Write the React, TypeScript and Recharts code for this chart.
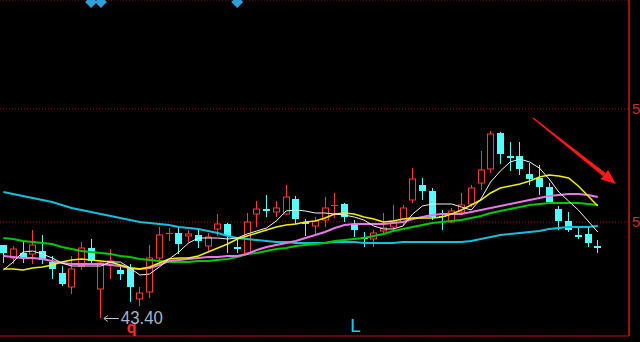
import React from 'react';
import {
  ComposedChart,
  Bar,
  Line,
  Scatter,
  XAxis,
  YAxis,
  CartesianGrid,
  ReferenceDot,
  ReferenceLine,
} from 'recharts';

// daily candles, oldest first
const opens = [
  48.51, 47.6, 47.95, 47.88, 48.09, 47.32, 46.55, 45.57, 47.04, 48.3,
  45.43, 47.25, 46.76, 46.9, 44.73, 45.22, 47.6, 49.28, 49.35, 49.14,
  49.21, 48.44, 49.63, 49.98, 48.37, 47.95, 50.68, 51.03, 50.82, 50.68,
  51.73, 50.12, 49.84, 50.26, 51.24, 51.38, 49.91, 49.07, 48.93, 49.49,
  49.77, 50.12, 51.66, 52.71, 52.29, 50.61, 50.12, 50.82, 51.38, 52.85,
  53.83, 56.35, 54.74, 54.74, 53.48, 53.2, 52.57, 51.03, 50.19, 49.21,
  49.28, 48.44,
];
const closes = [
  47.95, 48.23, 47.67, 48.51, 47.46, 46.83, 45.78, 46.83, 48.3, 47.39,
  47.25, 47.39, 46.48, 45.57, 45.15, 47.6, 49.21, 49.35, 48.58, 49.28,
  48.79, 49.07, 49.98, 49.14, 48.23, 50.12, 51.03, 50.89, 51.1, 51.87,
  50.33, 49.98, 50.19, 51.1, 51.31, 50.47, 49.56, 48.93, 49.35, 49.7,
  50.19, 51.1, 53.13, 52.29, 50.47, 50.54, 50.89, 51.31, 52.5, 53.76,
  56.28, 54.88, 54.6, 53.83, 53.13, 52.57, 51.52, 50.19, 49.56, 49.07,
  48.65, 48.3,
];
const highs = [
  48.51, 48.44, 48.72, 49.56, 49.21, 47.74, 47.04, 47.74, 48.72, 48.93,
  47.32, 48.23, 47.04, 47.18, 45.57, 48.51, 49.77, 49.7, 49.84, 49.56,
  49.56, 49.35, 50.68, 50.05, 49.0, 50.75, 51.59, 52.01, 51.59, 52.71,
  51.94, 50.33, 50.47, 51.87, 52.15, 51.45, 50.26, 49.42, 49.56, 50.75,
  51.31, 51.31, 53.9, 53.2, 52.5, 50.96, 51.1, 52.15, 52.71, 55.09,
  56.49, 56.42, 55.72, 55.72, 54.25, 54.11, 52.85, 51.24, 50.82, 49.77,
  49.77, 48.86,
];
const lows = [
  47.25, 47.18, 47.25, 47.18, 47.18, 46.13, 45.64, 45.08, 46.76, 47.25,
  43.4, 46.13, 46.06, 44.52, 44.24, 44.8, 47.25, 48.79, 47.88, 48.72,
  48.3, 48.02, 49.14, 47.95, 47.95, 47.88, 49.77, 50.47, 50.47, 50.61,
  49.98, 49.14, 49.28, 49.77, 50.4, 50.12, 49.07, 48.37, 48.37, 49.21,
  49.56, 49.91, 51.45, 51.66, 50.26, 49.56, 50.05, 50.75, 51.17, 52.36,
  53.55, 54.18, 53.69, 53.41, 52.71, 52.01, 51.52, 49.56, 49.42, 48.93,
  48.37, 47.95,
];

// moving averages
const ma5 = [
  46.76, 47.32, 48.02, 48.09, 47.88, 47.6, 47.25, 47.04, 47.04, 47.04,
  47.04, 47.32, 47.32, 46.9, 46.41, 46.48, 46.97, 47.53, 48.02, 48.65,
  49.0, 49.0, 49.0, 48.93, 49.0, 49.28, 49.49, 49.7, 50.19, 50.89,
  50.96, 50.89, 50.75, 50.75, 50.68, 50.61, 50.47, 50.26, 49.84, 49.63,
  49.63, 49.84, 50.68, 51.24, 51.38, 51.38, 51.38, 51.17, 50.96, 51.73,
  52.92, 53.69, 54.32, 54.53, 54.32, 53.9, 53.13, 52.22, 51.59, 50.96,
  50.19, 49.42,
];
const ma10 = [
  46.83, 46.83, 46.76, 46.9, 46.97, 47.11, 47.32, 47.46, 47.53, 47.46,
  47.39, 47.32, 47.11, 46.9, 46.83, 46.97, 47.25, 47.53, 47.6, 47.6,
  47.74, 48.02, 48.3, 48.58, 48.93, 49.14, 49.35, 49.56, 49.77, 49.91,
  49.98, 50.12, 50.19, 50.4, 50.68, 50.75, 50.68, 50.47, 50.33, 50.12,
  50.19, 50.33, 50.4, 50.4, 50.4, 50.47, 50.68, 50.96, 51.31, 51.66,
  52.15, 52.5, 52.64, 52.78, 52.99, 53.27, 53.41, 53.34, 53.2, 52.64,
  51.94, 51.24,
];
const ma20 = [
  47.74, 47.67, 47.6, 47.6, 47.53, 47.39, 47.25, 47.18, 47.18, 47.18,
  47.18, 47.11, 47.04, 46.9, 46.83, 46.9, 47.11, 47.39, 47.46, 47.53,
  47.6, 47.67, 47.67, 47.74, 47.74, 47.88, 48.16, 48.37, 48.51, 48.65,
  48.79, 49.0, 49.21, 49.42, 49.7, 49.91, 49.98, 49.98, 49.98, 49.98,
  50.05, 50.12, 50.33, 50.47, 50.61, 50.68, 50.68, 50.68, 50.82, 50.96,
  51.1, 51.24, 51.38, 51.52, 51.66, 51.8, 51.94, 52.01, 52.08, 52.08,
  52.01, 51.87,
];
const ma30 = [
  49.0, 48.93, 48.79, 48.72, 48.65, 48.58, 48.37, 48.23, 48.09, 48.02,
  47.95, 47.88, 47.74, 47.67, 47.53, 47.46, 47.39, 47.32, 47.32, 47.32,
  47.39, 47.39, 47.46, 47.53, 47.67, 47.88, 47.95, 48.09, 48.23, 48.3,
  48.44, 48.51, 48.58, 48.65, 48.79, 48.86, 48.93, 49.0, 49.14, 49.28,
  49.49, 49.63, 49.77, 49.91, 50.05, 50.12, 50.19, 50.26, 50.4, 50.54,
  50.75, 50.89, 51.03, 51.17, 51.31, 51.38, 51.45, 51.45, 51.45, 51.45,
  51.38, 51.31,
];
const ma60 = [
  52.22, 52.08, 51.94, 51.8, 51.66, 51.52, 51.31, 51.1, 50.96, 50.82,
  50.68, 50.54, 50.4, 50.26, 50.12, 50.05, 49.98, 49.91, 49.77, 49.7,
  49.63, 49.49, 49.35, 49.14, 49.0, 48.93, 48.86, 48.79, 48.72, 48.72,
  48.65, 48.65, 48.65, 48.65, 48.72, 48.72, 48.72, 48.65, 48.65, 48.65,
  48.65, 48.72, 48.72, 48.72, 48.72, 48.72, 48.72, 48.72, 48.79, 48.93,
  49.07, 49.21, 49.28, 49.35, 49.42, 49.49, 49.63, 49.7, 49.77, 49.77,
  49.77, 49.84,
];

const signalBars = [9, 10, 24]; // bars with a top marker
const priceTicks = [50.12, 58.03];
const lowBar = 10;
const lowText = '43.40';
const lBar = 36;

const Y_MIN = 42.14;
const Y_MAX = 65.66;
const UP = '#ff3838';
const DOWN = '#54ffff';
const FRAME = '#a01010';

const data = opens.map((o, i) => ({
  i,
  open: o,
  close: closes[i],
  high: highs[i],
  low: lows[i],
  range: [lows[i], highs[i]],
  ma5: ma5[i],
  ma10: ma10[i],
  ma20: ma20[i],
  ma30: ma30[i],
  ma60: ma60[i],
}));

const signals = signalBars.map(i => ({ i, top: Y_MAX }));

function Candle(props: any) {
  const { x, y, width, height, payload } = props;
  const { open, close, high, low } = payload;
  const top = Math.min(y, y + height);
  const h = Math.abs(height);
  const span = high - low;
  const toY = (v: number) => (span === 0 ? top : top + ((high - v) / span) * h);
  const up = close >= open;
  const color = up ? UP : DOWN;
  const cx = Math.round(x + width / 2) + 0.5;
  const bTop = toY(Math.max(open, close));
  const bBot = toY(Math.min(open, close));
  const yHigh = toY(high);
  const yLow = toY(low);

  if (bBot - bTop < 1.5) {
    const m = Math.round((bTop + bBot) / 2) + 0.5;
    return (
      <g>
        <line x1={cx} x2={cx} y1={yHigh} y2={yLow} stroke={color} strokeWidth={1} />
        <line x1={cx - 3.5} x2={cx + 3.5} y1={m} y2={m} stroke={color} strokeWidth={1} />
      </g>
    );
  }
  if (up) {
    return (
      <g>
        <line x1={cx} x2={cx} y1={yHigh} y2={bTop} stroke={color} strokeWidth={1} />
        <line x1={cx} x2={cx} y1={bBot} y2={yLow} stroke={color} strokeWidth={1} />
        <rect x={cx - 3} y={bTop} width={6} height={bBot - bTop} fill="#000" stroke={color} strokeWidth={1} />
      </g>
    );
  }
  return (
    <g>
      <line x1={cx} x2={cx} y1={yHigh} y2={yLow} stroke={color} strokeWidth={1} />
      <rect x={cx - 3.5} y={bTop} width={7} height={bBot - bTop} fill={color} />
    </g>
  );
}

function Diamond(props: any) {
  const { cx, cy } = props;
  const c = cy + 2;
  return (
    <polygon
      points={`${cx},${c - 6} ${cx + 6},${c} ${cx},${c + 6} ${cx - 6},${c}`}
      fill="#2f9fd8"
    />
  );
}

function LowMark(props: any) {
  const { cx, cy } = props;
  const ay = Math.round(cy) + 0.5;
  return (
    <g>
      <line x1={cx + 3} x2={cx + 18} y1={ay} y2={ay} stroke="#b8c0c8" strokeWidth={1} />
      <polyline
        points={`${cx + 7},${ay - 3} ${cx + 3},${ay} ${cx + 7},${ay + 3}`}
        fill="none"
        stroke="#b8c0c8"
        strokeWidth={1}
      />
      <text
        x={cx + 26}
        y={cy + 15}
        fontSize={16}
        fontWeight="bold"
        fontFamily="Liberation Sans, Arial, sans-serif"
        fill="#ff2a2a"
      >
        q
      </text>
      <text
        x={cx + 20}
        y={cy + 6}
        fontSize={19}
        fontFamily="Liberation Sans, Arial, sans-serif"
        fill="#a8b4c4"
        textLength={42}
        lengthAdjust="spacingAndGlyphs"
      >
        {lowText}
      </text>
    </g>
  );
}

function LMark(props: any) {
  const { cx, cy } = props;
  return (
    <text
      x={cx - 4}
      y={cy - 4}
      fontSize={19}
      fontFamily="Liberation Sans, Arial, sans-serif"
      fill="#1ec8f0"
    >
      L
    </text>
  );
}

function TrendArrow(props: any) {
  const { x1, y1, x2, y2 } = props;
  const dx = x2 - x1;
  const dy = y2 - y1;
  const len = Math.sqrt(dx * dx + dy * dy);
  const ux = dx / len;
  const uy = dy / len;
  const nx = -uy;
  const ny = ux;
  const bx = x2 - ux * 15;
  const by = y2 - uy * 15;
  const pt = (px: number, py: number) => `${px},${py}`;
  const shaft = [
    pt(x1 + nx * 0.6, y1 + ny * 0.6),
    pt(bx + nx * 2, by + ny * 2),
    pt(bx - nx * 2, by - ny * 2),
    pt(x1 - nx * 0.6, y1 - ny * 0.6),
  ].join(' ');
  const head = [
    pt(bx + nx * 6, by + ny * 6),
    pt(x2, y2),
    pt(bx - nx * 6, by - ny * 6),
  ].join(' ');
  return (
    <g>
      <polygon points={shaft} fill="#ff1a1a" />
      <polygon points={head} fill="#ff1a1a" />
    </g>
  );
}

export default function App() {
  return (
    <div
      style={{
        position: 'absolute',
        left: 0,
        top: 0,
        width: 640,
        height: 342,
        background: '#000',
        overflow: 'hidden',
      }}
    >
      <ComposedChart width={640} height={342} data={data} margin={{ top: 0, right: 0, bottom: 0, left: 0 }}>
        <CartesianGrid vertical={false} stroke={FRAME} strokeDasharray="1 2" />
        <XAxis
          dataKey="i"
          type="number"
          domain={[-0.35, 64.2]}
          allowDataOverflow
          tick={false}
          tickLine={false}
          height={6}
          axisLine={{ stroke: FRAME, strokeWidth: 1 }}
        />
        <YAxis
          orientation="right"
          domain={[Y_MIN, Y_MAX]}
          allowDataOverflow
          ticks={priceTicks}
          width={11}
          tickSize={0}
          tickMargin={3}
          tickLine={false}
          tickFormatter={(v: number) => v.toFixed(2)}
          tick={{ fill: '#c03030', fontSize: 15, fontFamily: 'Liberation Sans, Arial, sans-serif' }}
          axisLine={{ stroke: FRAME, strokeWidth: 2 }}
        />
        <Bar dataKey="range" barSize={7} shape={<Candle />} isAnimationActive={false} />
        <Line dataKey="ma60" stroke="#13c0dc" strokeWidth={2} dot={false} activeDot={false} type="linear" isAnimationActive={false} />
        <Line dataKey="ma30" stroke="#00c800" strokeWidth={2} dot={false} activeDot={false} type="linear" isAnimationActive={false} />
        <Line dataKey="ma20" stroke="#e878e8" strokeWidth={2} dot={false} activeDot={false} type="linear" isAnimationActive={false} />
        <Line dataKey="ma10" stroke="#f0f000" strokeWidth={1.5} dot={false} activeDot={false} type="linear" isAnimationActive={false} />
        <Line dataKey="ma5" stroke="#f4f4f4" strokeWidth={1} dot={false} activeDot={false} type="linear" isAnimationActive={false} />
        <Scatter data={signals} dataKey="top" shape={<Diamond />} isAnimationActive={false} />
        <ReferenceDot x={lowBar} y={lows[lowBar]} r={0} ifOverflow="visible" shape={<LowMark />} />
        <ReferenceDot x={lBar} y={Y_MIN} r={0} ifOverflow="visible" shape={<LMark />} />
        <ReferenceLine
          segment={[
            { x: 54.35, y: 57.4 },
            { x: 62.87, y: 52.78 },
          ]}
          ifOverflow="visible"
          shape={<TrendArrow />}
        />
      </ComposedChart>
    </div>
  );
}
